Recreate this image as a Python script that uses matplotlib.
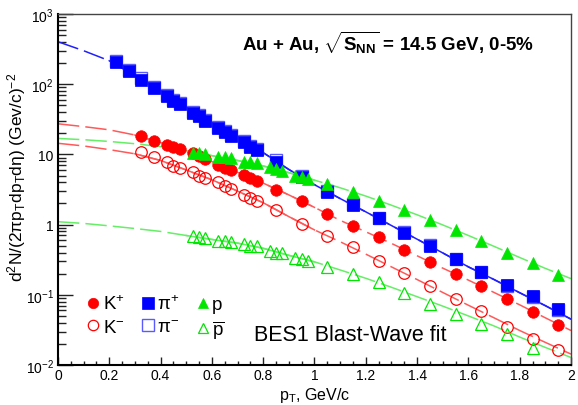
import numpy as np
import matplotlib.pyplot as plt

plt.rcParams['font.family'] = ['Liberation Sans', 'DejaVu Sans']
plt.rcParams['mathtext.fontset'] = 'custom'
plt.rcParams['mathtext.rm'] = 'Liberation Sans'
plt.rcParams['mathtext.it'] = 'Liberation Sans:italic'
plt.rcParams['mathtext.bf'] = 'Liberation Sans:bold'

pi_x = [0.225, 0.275, 0.325, 0.375, 0.425, 0.45, 0.475, 0.525, 0.55, 0.575,
        0.625, 0.65, 0.675, 0.725, 0.75, 0.775, 0.85, 0.95, 1.05, 1.15,
        1.25, 1.35, 1.45, 1.55, 1.65, 1.75, 1.85, 1.95]
pi_plus = [205, 153, 116, 88, 68.5, 58, 52, 39, 35, 30,
           23.5, 20.6, 18.5, 14.9, 12.6, 11.6, 7.9, 4.7, 2.9, 1.9,
           1.23, 0.76, 0.50, 0.32, 0.213, 0.137, 0.096, 0.063]
pi_minus = [213, 159, 121, 92, 71, 60, 54, 40.5, 36.5, 31,
            24.5, 21.4, 19.2, 15.5, 13.1, 12.0, 8.2, 4.85, 3.0, 1.96,
            1.26, 0.78, 0.51, 0.32, 0.21, 0.133, 0.093, 0.060]

k_x = [0.325, 0.375, 0.425, 0.45, 0.475, 0.525, 0.55, 0.575, 0.625, 0.65,
       0.675, 0.725, 0.75, 0.775, 0.85, 0.95, 1.05, 1.15, 1.25, 1.35,
       1.45, 1.55, 1.65, 1.75, 1.85, 1.95]
k_plus = [18.5, 15.7, 13.6, 12.6, 11.9, 10.4, 9.6, 8.6, 7.1, 6.4,
          6.05, 5.1, 4.57, 4.2, 3.16, 2.19, 1.41, 0.964, 0.66, 0.44,
          0.29, 0.198, 0.135, 0.087, 0.057, 0.037]
k_minus = [10.7, 9.1, 7.7, 6.9, 6.4, 5.56, 5.0, 4.57, 4.0, 3.58,
           3.22, 2.64, 2.37, 2.19, 1.63, 1.02, 0.695, 0.475, 0.306, 0.204,
           0.135, 0.087, 0.058, 0.0344, 0.0234, 0.0164]

p_x = [0.525, 0.55, 0.575, 0.625, 0.65, 0.675, 0.725, 0.75, 0.775, 0.825,
       0.85, 0.875, 0.925, 0.95, 0.975, 1.05, 1.15, 1.25, 1.35, 1.45,
       1.55, 1.65, 1.75, 1.85, 1.95]
p_y = [10.4, 10.6, 10.1, 9.1, 9.1, 8.8, 7.7, 7.7, 7.5, 6.55,
       6.2, 5.8, 5.0, 4.7, 4.5, 3.8, 2.95, 2.19, 1.62, 1.17,
       0.84, 0.58, 0.40, 0.28, 0.193]
pbar_x = [0.525, 0.55, 0.575, 0.625, 0.65, 0.675, 0.725, 0.75, 0.775, 0.825,
          0.85, 0.875, 0.925, 0.95, 0.975, 1.05, 1.15, 1.25, 1.35, 1.45,
          1.55, 1.65, 1.75, 1.85]
pbar_y = [0.68, 0.66, 0.64, 0.59, 0.58, 0.56, 0.53, 0.50, 0.50, 0.425,
          0.40, 0.39, 0.34, 0.32, 0.306, 0.253, 0.197, 0.15, 0.105, 0.073,
          0.053, 0.038, 0.0277, 0.0175]

# blast-wave fit curves, every 0.1 GeV/c
fit_x = [0.0, 0.1, 0.2, 0.3, 0.4, 0.5, 0.6, 0.7, 0.8, 0.9, 1.0,
         1.1, 1.2, 1.3, 1.4, 1.5, 1.6, 1.7, 1.8, 1.9, 2.0]
fit_pi = [403, 300, 216, 133, 78, 45, 26.5, 16.6, 10.6, 6.1, 3.7,
          2.35, 1.52, 0.97, 0.62, 0.395, 0.25, 0.165, 0.107, 0.07, 0.045]
fit_kp = [27.3, 24.9, 22.4, 18.9, 14.7, 11.1, 7.9, 5.55, 3.9, 2.65, 1.76,
          1.15, 0.79, 0.54, 0.36, 0.24, 0.162, 0.108, 0.072, 0.047, 0.031]
fit_km = [14.4, 13.2, 11.7, 10.2, 8.2, 6.0, 4.35, 3.0, 2.05, 1.3, 0.84,
          0.57, 0.38, 0.25, 0.165, 0.108, 0.071, 0.047, 0.031, 0.021, 0.0143]
fit_p = [16.9, 16.2, 15.3, 14.2, 12.9, 11.2, 9.6, 8.2, 6.85, 5.5, 4.3,
         3.35, 2.55, 1.89, 1.38, 0.99, 0.70, 0.49, 0.34, 0.238, 0.17]
fit_pbar = [1.10, 1.04, 0.96, 0.88, 0.80, 0.70, 0.615, 0.545, 0.46, 0.365, 0.295,
            0.226, 0.172, 0.128, 0.094, 0.069, 0.050, 0.036, 0.025, 0.0178, 0.0128]
# pT ranges where the fits are drawn solid
fit_range_pi = (0.2, 2.0)
fit_range_k = (0.3, 1.0)
fit_range_p = (0.5, 1.0)

red = '#ff0000'
blue = '#0000ff'
green = '#00e600'
red_line = '#ff5a5a'
blue_line = '#2020ff'
green_line = '#66ee66'

fig = plt.figure(figsize=(5.78, 4.06), dpi=100)
ax = fig.add_axes([0.1003, 0.0985, 0.8876, 0.8645])

def draw_fit(vals, rng, color):
    xs = np.array(fit_x)
    ys = np.array(vals)
    ax.plot(xs, ys, color=color, lw=1.1, ls=(0, (14, 4)), zorder=2)
    m = (xs >= rng[0] - 1e-9) & (xs <= rng[1] + 1e-9)
    ax.plot(xs[m], ys[m], color=color, lw=1.1, ls='-', zorder=2)

draw_fit(fit_pi, fit_range_pi, blue_line)
draw_fit(fit_kp, fit_range_k, red_line)
draw_fit(fit_km, fit_range_k, red_line)
draw_fit(fit_p, fit_range_p, green_line)
draw_fit(fit_pbar, fit_range_p, green_line)

h_pim, = ax.plot(pi_x, pi_minus, ls='none', marker='s', ms=9, mfc='none',
                 mec='#5a5aff', mew=1.0, zorder=3)
h_pip, = ax.plot(pi_x, pi_plus, ls='none', marker='s', ms=9, mfc=blue,
                 mec=blue, mew=0.5, zorder=4)
h_kp, = ax.plot(k_x, k_plus, ls='none', marker='o', ms=8.3, mfc=red,
                mec=red, mew=0.5, zorder=4)
h_km, = ax.plot(k_x, k_minus, ls='none', marker='o', ms=8.3, mfc='none',
                mec=red, mew=0.9, zorder=4)
h_p, = ax.plot(p_x, p_y, ls='none', marker='^', ms=8.6, mfc=green,
               mec=green, mew=0.5, zorder=5)
h_pbar, = ax.plot(pbar_x, pbar_y, ls='none', marker='^', ms=8.6, mfc='none',
                  mec=green, mew=0.9, zorder=5)

ax.set_yscale('log')
ax.set_xlim(0, 2)
ax.set_ylim(1e-2, 1e3)

x_ticks = [0, 0.2, 0.4, 0.6, 0.8, 1.0, 1.2, 1.4, 1.6, 1.8, 2.0]
x_tick_labels = ['0', '0.2', '0.4', '0.6', '0.8', '1', '1.2', '1.4', '1.6', '1.8', '2']
y_ticks = [1e-2, 1e-1, 1, 10, 1e2, 1e3]
y_tick_labels = ['$10^{-2}$', '$10^{-1}$', '1', '10', '$10^{2}$', '$10^{3}$']
ax.set_xticks(x_ticks, x_tick_labels)
ax.set_xticks(np.arange(0, 2.0001, 0.05), minor=True)
ax.set_yticks(y_ticks, y_tick_labels)
ax.set_yticks([m * 10.0 ** e for e in range(-2, 3) for m in range(2, 10)], minor=True)
ax.tick_params(axis='both', which='both', direction='in', top=False, right=False,
               labelsize=10, colors='#222222', labelcolor='black')
ax.tick_params(axis='y', which='major', length=10.5, width=1.0, pad=3)
ax.tick_params(axis='y', which='minor', length=5.5, width=1.0)
ax.tick_params(axis='x', which='major', length=6, width=1.0, pad=2.5)
ax.tick_params(axis='x', which='minor', length=3, width=1.0)
ax.yaxis.set_minor_formatter(plt.NullFormatter())

ax.spines['left'].set_linewidth(1.5)
ax.spines['bottom'].set_linewidth(1.5)
ax.spines['top'].set_linewidth(1.0)
ax.spines['right'].set_linewidth(1.0)
ax.spines['top'].set_color('#444444')
ax.spines['right'].set_color('#444444')

ax.text(0.5, -0.058, 'p$_{\\mathrm{T}}$, GeV/c', transform=ax.transAxes,
        ha='center', va='top', fontsize=11.5)
ax.text(-0.080, 0.536,
        'd$^{2}$N/(2πp$_{\\mathrm{T}}$dp$_{\\mathrm{T}}$dη) (Gev/c)$^{-2}$',
        transform=ax.transAxes, rotation=90, ha='center', va='center', fontsize=12.5)

ax.text(0.644, 0.920,
        'Au + Au, $\\sqrt{\\mathbf{S}_{\\mathbf{NN}}}$ = 14.5 GeV, 0-5%',
        transform=ax.transAxes, ha='center', va='center', fontsize=13.5, fontweight='bold')
ax.text(0.570, 0.088, 'BES1 Blast-Wave fit', transform=ax.transAxes,
        ha='center', va='center', fontsize=15.5)

ax.legend([h_kp, h_km, h_pip, h_pim, h_p, h_pbar],
          ['K$^{+}$', 'K$^{-}$', 'π$^{+}$', 'π$^{-}$', 'p', '$\\overline{\\mathrm{p}}$'],
          ncol=3, loc='lower left', bbox_to_anchor=(0.056, 0.07), frameon=False,
          fontsize=13.5, handlelength=0.7, handletextpad=0.15, columnspacing=0.9,
          labelspacing=0.3, borderpad=0, borderaxespad=0, markerscale=0.9)

plt.savefig('out.png', dpi=100)
